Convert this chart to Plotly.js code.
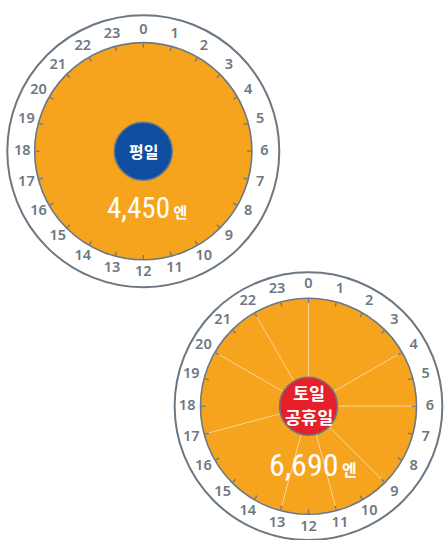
<!DOCTYPE html>
<html>
<head>
<meta charset="utf-8">
<script src="https://cdn.plot.ly/plotly-3.0.1.min.js"></script>
<style>html,body{margin:0;padding:0;background:#fff}#chart{width:446px;height:540px}</style>
</head>
<body>
<div id="chart"></div>
<script>
// ---- data ----
const hours = [0,1,2,3,4,5,6,7,8,9,10,11,12,13,14,15,16,17,18,19,20,21,22,23];
const hourLabels = ['0','1','2','3','4','5','6','7','8','9','10','11','12','13','14','15','16','17','18','19','20','21','22','23'];
const dayTypes = ['평일', '토일<br>공휴일'];
const fares = [4450, 6690];
const fareUnit = '엔';
const weekdayBandStart = [0];
const weekdayBandEnd = [24];
const holidayBandStart = [0, 4, 6, 9, 11, 13, 17, 20, 22];
const holidayBandEnd = [4, 6, 9, 11, 13, 17, 20, 22, 24];

// ---- styles ----
const ORANGE = '#f6a31e';
const GRAY = '#6b7883';
const NAVY = '#0e4ea0';
const RED = '#e61f2a';
const W = 446, H = 540;

const charts = [
  {cx:143.3, cy:151.2, R:136, r:108.6, lab:121, start:weekdayBandStart, end:weekdayBandEnd,
   color:NAVY, fare:fares[0], name:dayTypes[0], nameSize:16, fareSize:29, fx:146.5, fy:208,
   sepLine:0, lineGap:0},
  {cx:308.5, cy:406.3, R:134, r:108, lab:121.5, start:holidayBandStart, end:holidayBandEnd,
   color:RED, fare:fares[1], name:dayTypes[1], nameSize:17.5, fareSize:32, fx:313, fy:465,
   sepLine:0.8, lineGap:24}
];

const traces = [];
const layout = {
  width: W, height: H,
  margin: {l:0, r:0, t:0, b:0},
  paper_bgcolor: '#fff',
  showlegend: false,
  annotations: []
};

function hideRadial(range){
  return {range: range, showline:false, showticklabels:false, showgrid:false, ticks:''};
}

charts.forEach((c, i) => {
  const outer = i === 0 ? 'polar' : 'polar3';
  const inner = i === 0 ? 'polar2' : 'polar4';
  const yTopO = Math.max(0, (H - c.cy - c.R) / H);
  layout[outer] = {
    domain: {x: [(c.cx - c.R) / W, (c.cx + c.R) / W], y: [yTopO, (H - c.cy + c.R) / H]},
    bgcolor: 'rgba(0,0,0,0)',
    bargap: 0,
    radialaxis: hideRadial([0, c.R]),
    angularaxis: {direction:'clockwise', rotation:90, showline:true, linecolor:GRAY, linewidth:2,
                  showgrid:false, ticks:'', showticklabels:false}
  };
  layout[inner] = {
    domain: {x: [(c.cx - c.r) / W, (c.cx + c.r) / W], y: [(H - c.cy - c.r) / H, (H - c.cy + c.r) / H]},
    bgcolor: 'rgba(0,0,0,0)',
    radialaxis: hideRadial([0, c.r]),
    angularaxis: {direction:'clockwise', rotation:90, type:'linear', thetaunit:'degrees',
                  showline:true, linecolor:GRAY, linewidth:1.6,
                  showgrid:false, tickmode:'array', tickvals: hours.map(h => h * 15),
                  ticks:'inside', ticklen:4, tickwidth:1.3, tickcolor:GRAY, showticklabels:false}
  };
  traces.push({
    type:'barpolar', subplot: outer,
    r: c.start.map(() => c.r),
    theta: c.start.map((s, k) => (s + c.end[k]) / 2 * 15),
    width: c.start.map((s, k) => (c.end[k] - s) * 15),
    marker: {color: ORANGE, line: {color: c.sepLine ? 'rgba(255,240,215,0.5)' : ORANGE, width: c.sepLine || 0}},
    hoverinfo: 'skip'
  });
  traces.push({
    type:'scatterpolar', subplot: outer, mode:'text',
    r: hours.map(() => c.lab), theta: hours.map(h => h * 15),
    text: hourLabels,
    textfont: {family:'Noto Sans, DejaVu Sans, sans-serif', size:14.5, color:GRAY, weight:600},
    textposition:'middle center', hoverinfo:'skip'
  });
  // badge circle
  traces.push({
    type:'scatterpolar', subplot: inner, mode:'markers',
    r:[0], theta:[0],
    marker: {size:58, color:c.color, line:{color:GRAY, width:1.6}},
    hoverinfo:'skip'
  });
  // badge text, one annotation per line
  const lines = c.name.split('<br>');
  lines.forEach((ln, k) => {
    const off = (k - (lines.length - 1) / 2) * c.lineGap - (lines.length > 1 ? 2 : 0);
    layout.annotations.push({
      xref:'paper', yref:'paper', x: c.cx / W, y: (H - (c.cy + off)) / H,
      xanchor:'center', yanchor:'middle', showarrow:false, text: ln,
      font: {family:'Noto Sans CJK KR, sans-serif', size:c.nameSize, color:'#fff', weight:'bold'}
    });
  });
  layout.annotations.push({
    xref:'paper', yref:'paper', x: c.fx / W, y: (H - c.fy) / H,
    xanchor:'center', yanchor:'middle', showarrow:false,
    text: c.fare.toLocaleString('en-US') +
          '<span style="font-size:' + Math.round(c.fareSize * 0.5) + 'px;font-family:Noto Sans CJK KR;font-weight:bold;font-stretch:normal"> ' + fareUnit + '</span>',
    font: {family:'Noto Sans ExtraCondensed, Noto Sans Condensed, Liberation Sans Narrow, Roboto Condensed, Noto Sans, sans-serif',
           size:c.fareSize, color:'#fff', weight:400, stretch:'condensed'}
  });
});

Plotly.newPlot('chart', traces, layout, {displayModeBar:false, staticPlot:true});
</script>
</body>
</html>
